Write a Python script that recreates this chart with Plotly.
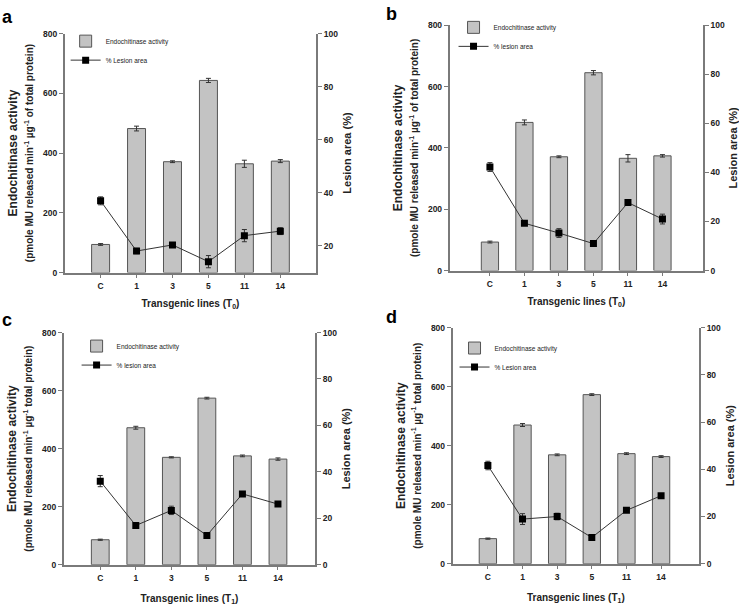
import plotly.graph_objects as go

lines = ["C", "1", "3", "5", "11", "14"]

act_a = [94, 482, 371, 643, 364, 373]
act_a_err = [3, 8, 3, 7, 12, 5]
les_a = [37.0, 18.1, 20.4, 14.1, 23.9, 25.6]
les_a_err = [1.5, 1.0, 0.6, 2.3, 2.3, 1.3]

act_b = [93, 483, 371, 645, 366, 374]
act_b_err = [3, 8, 3, 7, 12, 4]
les_b = [42.2, 19.3, 15.3, 11.0, 27.7, 21.0]
les_b_err = [1.8, 0.6, 1.8, 0.6, 0.8, 2.0]

act_c = [86, 472, 370, 574, 375, 364]
act_c_err = [2, 5, 2, 3, 3, 4]
les_c = [36.0, 16.9, 23.4, 12.6, 30.5, 26.1]
les_c_err = [2.4, 0.6, 1.8, 0.6, 1.0, 0.6]

act_d = [85, 470, 369, 573, 373, 363]
act_d_err = [2, 5, 3, 3, 3, 3]
les_d = [41.6, 18.9, 20.0, 11.1, 22.6, 28.8]
les_d_err = [1.8, 2.3, 1.4, 0.5, 0.6, 0.6]

W, H = 739, 612
FONT = "Liberation Sans, Arial, sans-serif"
AXIS_COL = "#7a7a7a"
TXT = "#222222"

# panel: label, data, pixel box (x0, x1, ytop, ybottom), x range, right range, texts
panels = [
    dict(label="a", act=act_a, act_err=act_a_err, les=les_a, les_err=les_a_err,
         box=(65, 318, 29, 272), xr=[-1.0, 6.0], rr=[10, 100], xstand=10,
         gen="0", unit="of total protein", leg="% Lesion area", legpos=(66, 22), labpos=(0, 0)),
    dict(label="b", act=act_b, act_err=act_b_err, les=les_b, les_err=les_b_err,
         box=(452, 707, 20.5, 270), xr=[-1.17, 6.18], rr=[0, 100], xstand=10,
         gen="0", unit="of total protein", leg="% lesion area", legpos=(456, 8), labpos=(386, -3)),
    dict(label="c", act=act_c, act_err=act_c_err, les=les_c, les_err=les_c_err,
         box=(64, 317, 333, 569), xr=[-1.03, 6.05], rr=[0, 100], xstand=13,
         gen="1", unit="total protein", leg="% lesion area", legpos=(77, 332), labpos=(0, 308)),
    dict(label="d", act=act_d, act_err=act_d_err, les=les_d, les_err=les_d_err,
         box=(455, 703, 328, 568), xr=[-1.02, 6.1], rr=[0, 100], xstand=13,
         gen="1", unit="total protein", leg="% Lesion area", legpos=(457, 334), labpos=(386, 305)),
]

fig = go.Figure()
layout = {}
annotations = []

for i, p in enumerate(panels):
    xa = "x" if i == 0 else f"x{i + 1}"
    ya = "y" if i == 0 else f"y{2 * i + 1}"
    yb = f"y{2 * i + 2}"
    leg = "legend" if i == 0 else f"legend{i + 1}"
    x0, x1, yt, yb_px = p["box"]

    fig.add_trace(go.Bar(
        x=lines, y=p["act"], xaxis=xa, yaxis=ya, width=0.5,
        marker=dict(color="#c3c3c3", line=dict(color="#555555", width=1)),
        error_y=dict(type="data", array=p["act_err"], color="#333333", thickness=1, width=2.5),
        name="Endochitinase activity", legend=leg,
    ))
    fig.add_trace(go.Scatter(
        x=lines, y=p["les"], xaxis=xa, yaxis=yb, mode="lines+markers",
        line=dict(color="#333333", width=1),
        marker=dict(symbol="square", size=7, color="black"),
        error_y=dict(type="data", array=p["les_err"], color="#333333", thickness=1, width=2.5),
        name=p["leg"], legend=leg,
    ))

    xdom = [x0 / W, x1 / W]
    ydom = [1 - yb_px / H, 1 - yt / H]
    ax_common = dict(showline=True, linecolor=AXIS_COL, linewidth=1.5, ticks="outside",
                     tickcolor=AXIS_COL, ticklen=4, tickwidth=1.2, showgrid=False, zeroline=False,
                     tickfont=dict(family=FONT, size=8.5, color=TXT, weight="bold"))

    layout["xaxis" if i == 0 else f"xaxis{i + 1}"] = dict(
        ax_common, domain=xdom, anchor=ya, type="category", range=p["xr"],
        title=dict(text=f"Transgenic lines (T<sub>{p['gen']}</sub>)", standoff=p["xstand"],
                   font=dict(family=FONT, size=10, color=TXT, weight="bold")),
    )
    layout["yaxis" if i == 0 else f"yaxis{2 * i + 1}"] = dict(
        ax_common, domain=ydom, anchor=xa, range=[0, 800], dtick=200,
        title=dict(text="Endochitinase activity<br><span style='font-size:10px'>(pmole MU released "
                        f"min<sup>-1</sup> µg<sup>-1</sup> {p['unit']})</span>", standoff=7,
                   font=dict(family=FONT, size=12, color=TXT, weight="bold")),
    )
    layout[f"yaxis{2 * i + 2}"] = dict(
        ax_common, domain=ydom, anchor=xa, overlaying=ya, side="right",
        range=p["rr"], dtick=20,
        title=dict(text="Lesion area (%)", standoff=6,
                   font=dict(family=FONT, size=11, color=TXT, weight="bold")),
    )
    lx, ly = p["legpos"]
    layout[leg] = dict(x=lx / W, y=1 - ly / H, xanchor="left", yanchor="top",
                       bgcolor="rgba(0,0,0,0)", font=dict(family=FONT, size=6.5, color=TXT),
                       itemwidth=30, tracegroupgap=0)
    tx, ty = p["labpos"]
    annotations.append(dict(text=f"<b>{p['label']}</b>", x=tx / W, y=1 - ty / H,
                            xref="paper", yref="paper", xanchor="left", yanchor="top",
                            showarrow=False, font=dict(family=FONT, size=18, color="black")))

fig.update_layout(
    width=W, height=H, margin=dict(l=0, r=0, t=0, b=0),
    paper_bgcolor="white", plot_bgcolor="white", showlegend=True,
    annotations=annotations, bargap=0.5, **layout,
)

fig.write_html("out.html", config={"displayModeBar": False},
               post_script="document.body.style.margin = '0';")
